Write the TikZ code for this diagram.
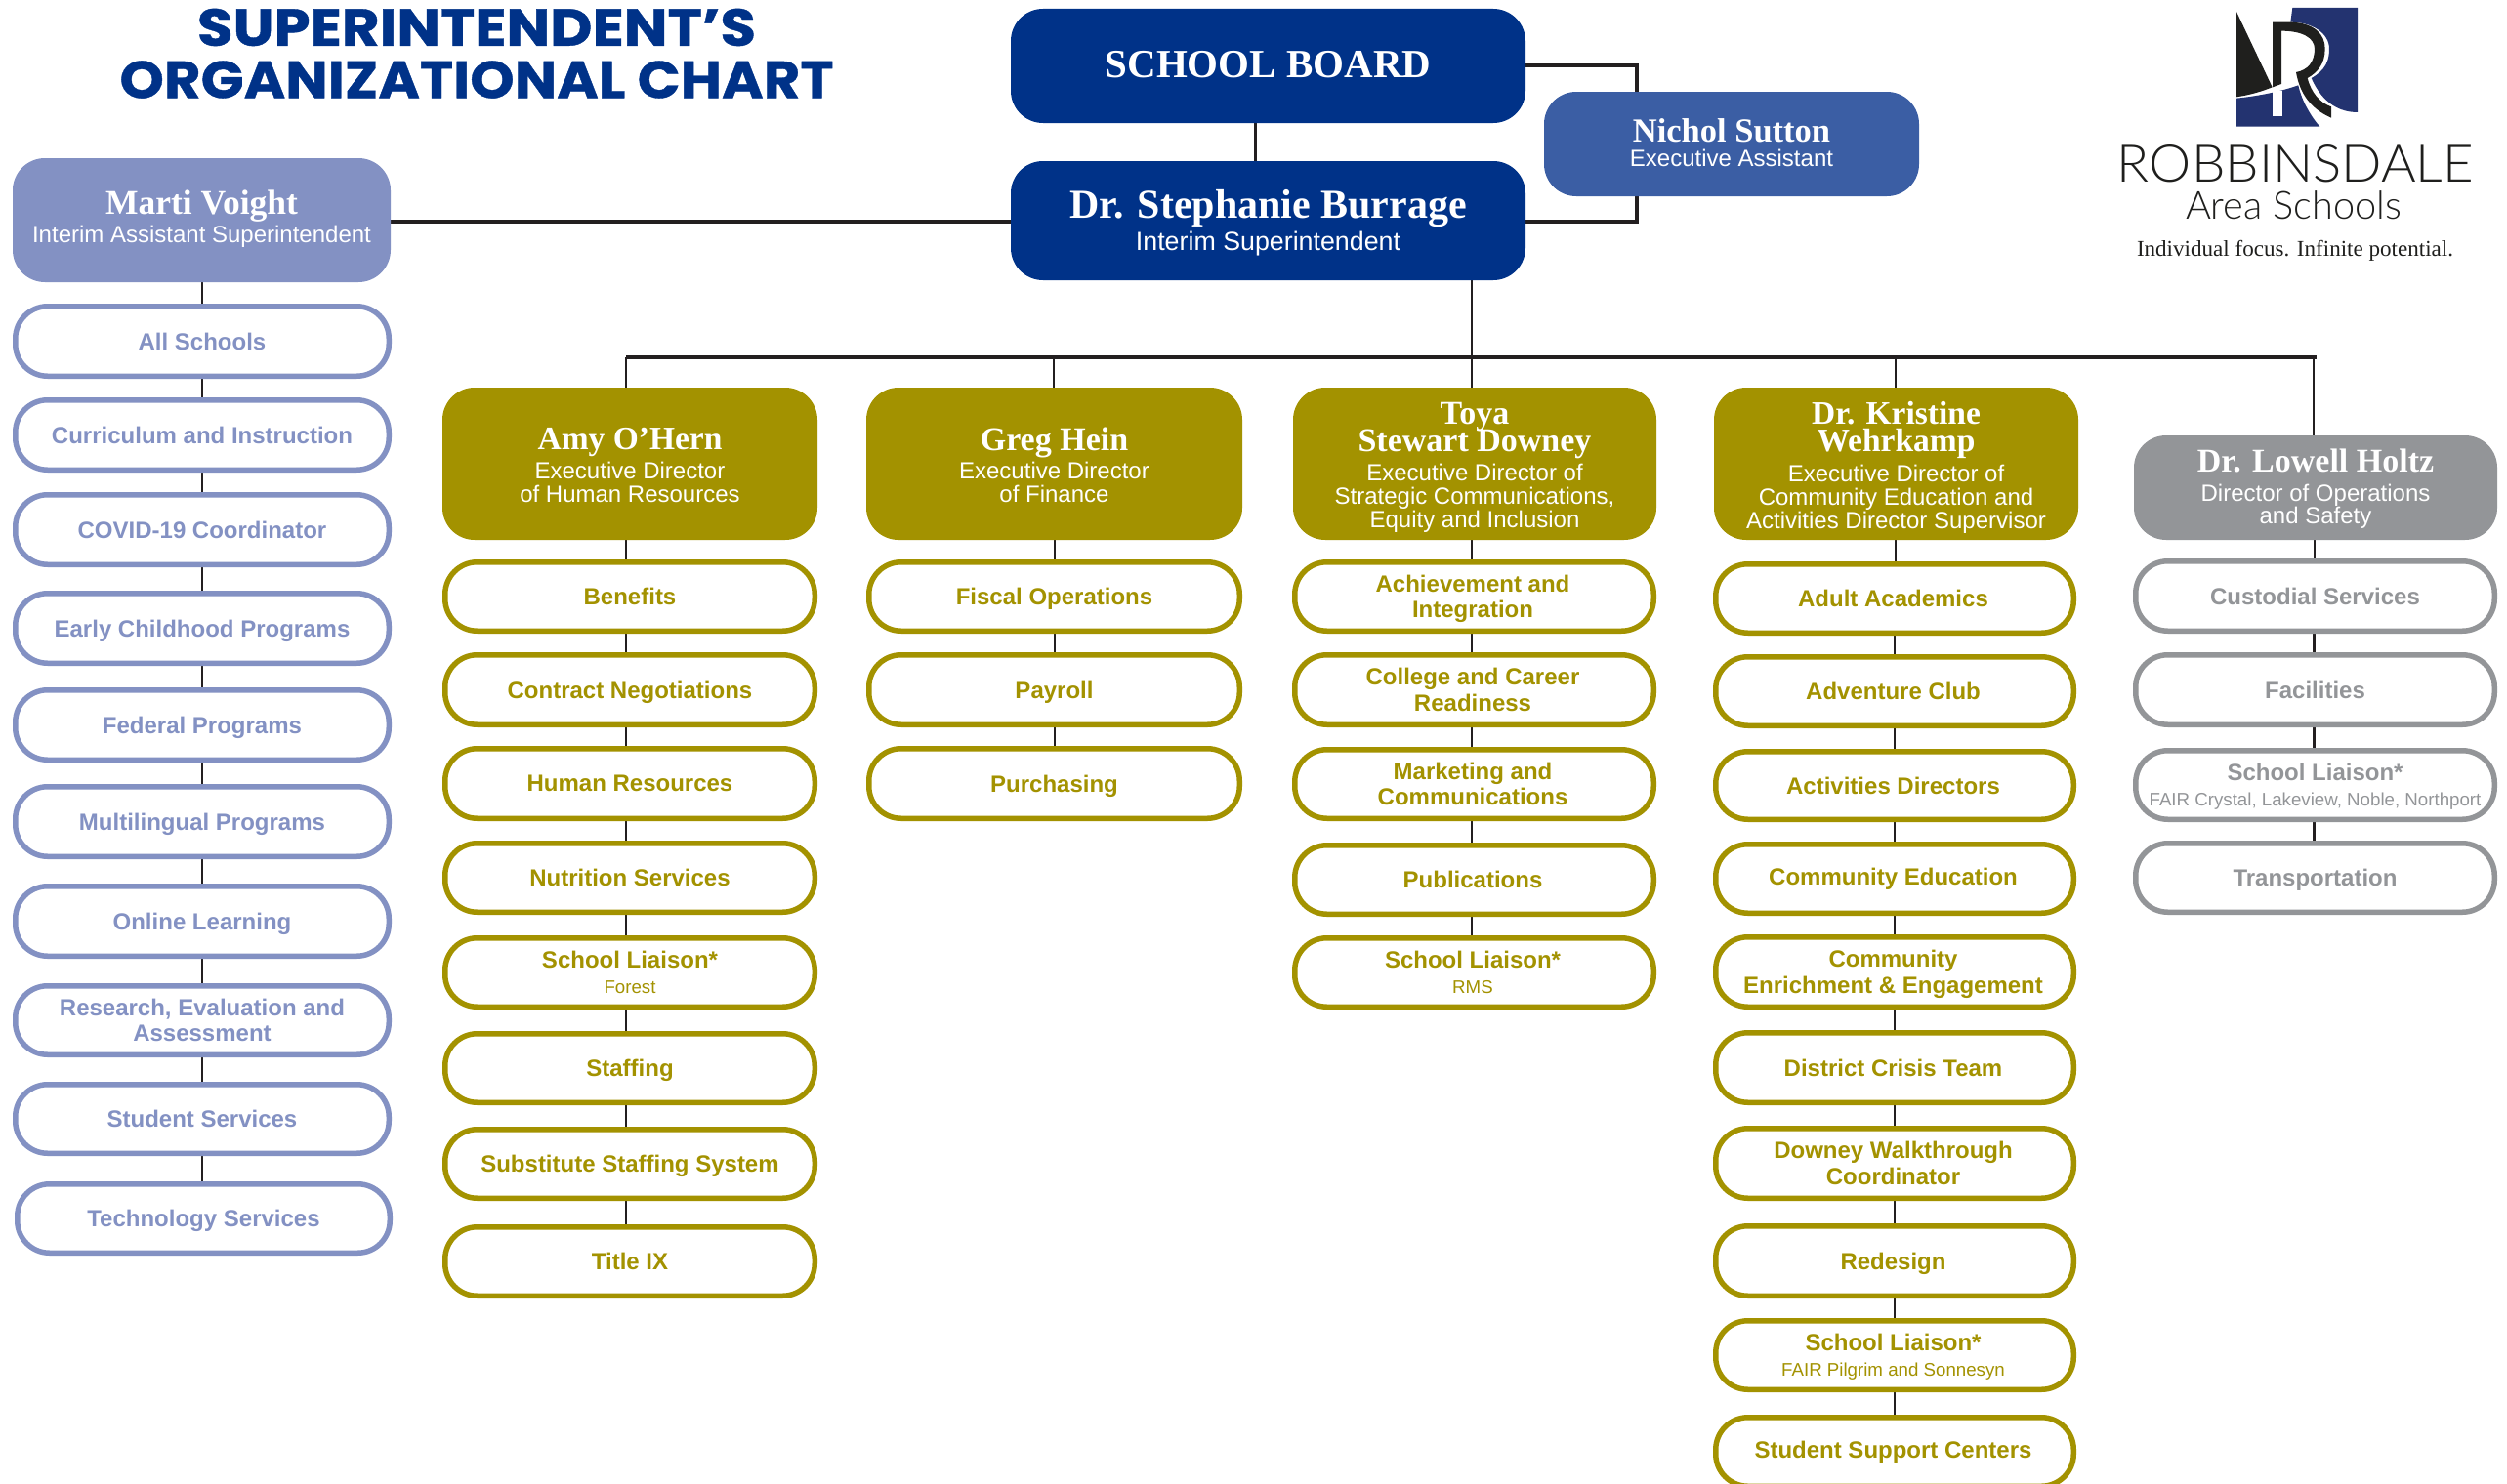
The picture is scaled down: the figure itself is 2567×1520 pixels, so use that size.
\documentclass[tikz,border=0pt]{standalone}
\usepackage{graphicx}
\usepackage{fontspec}
\usetikzlibrary{backgrounds}
\setmainfont{Liberation Sans}
\newfontfamily\namefont{Liberation Serif}
\newfontfamily\titlefont[BoldFeatures={FakeBold=0.7}]{Poppins}
\newfontfamily\logofont[UprightFont={* Light}]{Lato}
\definecolor{navyc}{RGB}{0,50,136}
\definecolor{midc}{RGB}{59,94,164}
\definecolor{perc}{RGB}{131,145,195}
\definecolor{goldc}{RGB}{163,146,0}
\definecolor{greyc}{RGB}{147,149,152}
\definecolor{logonavy}{RGB}{35,51,112}
\definecolor{logoblack}{RGB}{31,31,29}
\definecolor{linec}{RGB}{35,31,32}
\newcommand{\nm}[1]{\fontsize{#1}{29}\namefont\bfseries\selectfont}
\newcommand{\subf}{\fontsize{24}{24}\normalfont\selectfont}
\newcommand{\sm}{\fontsize{18.7}{24}\normalfont\selectfont}
\newcommand{\nod}[1]{\raisebox{0pt}[\height][0pt]{#1}}
\newcommand{\bx}[8]{% style, name, x0,y0,x1,y1, dy, text
  \node[#1,minimum width={#5-#3-\sw},minimum height={#6-#4-\sw},
        label={[labtext,yshift=#7]center:{#8}}] (#2) at ({(#3+#5)/2},{(#4+#6)/2}) {};}
\newcommand{\cn}[3]{\draw[conn] ([xshift=#3]#1.south) -- ([xshift=#3]#1.south |- #2.north);}
\tikzset{
  labtext/.style={align=center,inner sep=0pt,font=\fontsize{24}{26.5}\bfseries\selectfont},
  fillbox/.style={rectangle,rounded corners=33pt,fill=#1,draw=none,inner sep=0pt,outer sep=0pt},
  linebox/.style={rectangle,rounded corners=33pt,fill=white,draw=#1,line width=5.5pt,inner sep=0pt,outer sep=0pt},
  conn/.style={draw=linec,line width=2.6pt},
  thick conn/.style={draw=linec,line width=4pt},
  logotext/.style={inner sep=0pt,text=logoblack}
}
\begin{document}
\begin{tikzpicture}[x=1pt,y=-1pt]
\useasboundingbox (0,0) rectangle (2567,1520);
\def\sw{0}
% title
\node[inner sep=0pt,text=navyc] (t1) at (488,28) {\resizebox{572pt}{38pt}{\titlefont\bfseries SUPERINTENDENT’S}};
\node[inner sep=0pt,text=navyc] (t2) at (488,81.5) {\resizebox{731pt}{38pt}{\titlefont\bfseries ORGANIZATIONAL CHART}};
% leaders
\tikzset{every label/.append style={text=white}}
\bx{fillbox=navyc}{board}{1035}{9}{1562}{126}{1}{\fontsize{41}{41}\namefont\bfseries\selectfont SCHOOL BOARD}
\bx{fillbox=navyc}{burrage}{1035}{165}{1562}{287}{-2}{\nm{42}Dr. Stephanie Burrage\\[3pt] \fontsize{26.8}{24}\normalfont\selectfont Interim Superintendent}
\bx{fillbox=midc}{nichol}{1581}{94}{1965}{201}{1}{\nm{34.5}Nichol Sutton\\[-1.5pt] \subf Executive Assistant}
\bx{fillbox=perc}{marti}{13}{162}{400}{289}{1.5}{\nm{35.5}Marti Voight\\[3pt] \subf Interim Assistant Superintendent}
\bx{fillbox=goldc}{amy}{453}{397}{837}{553}{-1.5}{\nm{33.5}Amy O’Hern\\[3pt] \subf Executive Director\\[-2.5pt] \subf of Human Resources}
\bx{fillbox=goldc}{greg}{887}{397}{1272}{553}{-1.5}{\nm{34}Greg Hein\\[2pt] \subf Executive Director\\[-2.5pt] \subf of Finance}
\bx{fillbox=goldc}{toya}{1324}{397}{1696}{553}{-4}{\nm{34}Toya\\[-3pt] \nm{34}Stewart Downey\\[4pt] \subf Executive Director of\\[-2.5pt] \subf Strategic Communications,\\[-2.5pt] \subf Equity and Inclusion}
\bx{fillbox=goldc}{kris}{1755}{397}{2128}{553}{-4}{\nm{33.5}Dr. Kristine\\[1.5pt] \nm{33.5}Wehrkamp\\[4pt] \subf Executive Director of\\[-2.5pt] \subf Community Education and\\[-2.5pt] \subf Activities Director Supervisor}
\bx{fillbox=greyc}{lowell}{2185}{446}{2557}{553}{-1}{\nm{34}Dr. Lowell Holtz\\[3.5pt] \subf Director of Operations\\[-3pt] \subf and Safety}
% sub-boxes
\def\sw{5.5}
\tikzset{every label/.append style={text=perc}}
\bx{linebox=perc}{m1}{13}{311}{401}{388}{0}{All Schools}
\bx{linebox=perc}{m2}{13}{407}{401}{484}{0}{Curriculum and Instruction}
\bx{linebox=perc}{m3}{13}{504}{401}{581}{0}{COVID-19 Coordinator}
\bx{linebox=perc}{m4}{13}{605}{401}{682}{0}{\nod{Early Childhood Programs}}
\bx{linebox=perc}{m5}{13}{704}{401}{781}{0}{\nod{Federal Programs}}
\bx{linebox=perc}{m6}{13}{803}{401}{880}{0}{\nod{Multilingual Programs}}
\bx{linebox=perc}{m7}{13}{905}{401}{982}{0}{\nod{Online Learning}}
\bx{linebox=perc}{m8}{13}{1007}{401}{1083}{0}{Research, Evaluation and\\Assessment}
\bx{linebox=perc}{m9}{13}{1108}{401}{1184}{0}{Student Services}
\bx{linebox=perc}{m10}{15}{1210}{402}{1286}{0}{\nod{Technology Services}}
\tikzset{every label/.append style={text=goldc}}
\bx{linebox=goldc}{a1}{453}{573}{837}{649}{0}{Benefits}
\bx{linebox=goldc}{a2}{453}{668}{837}{745}{0}{\nod{Contract Negotiations}}
\bx{linebox=goldc}{a3}{453}{764}{837}{841}{0}{Human Resources}
\bx{linebox=goldc}{a4}{453}{861}{837}{937}{0}{Nutrition Services}
\bx{linebox=goldc}{a5}{453}{958}{837}{1034}{0}{School Liaison*\\ \sm Forest}
\bx{linebox=goldc}{a6}{453}{1056}{837}{1132}{0}{\nod{Staffing}}
\bx{linebox=goldc}{a7}{453}{1154}{837}{1230}{0}{\nod{Substitute Staffing System}}
\bx{linebox=goldc}{a8}{453}{1254}{837}{1330}{0}{Title IX}
\bx{linebox=goldc}{g1}{887}{573}{1272}{649}{0}{\nod{Fiscal Operations}}
\bx{linebox=goldc}{g2}{887}{668}{1272}{745}{0}{\nod{Payroll}}
\bx{linebox=goldc}{g3}{887}{764}{1272}{841}{0}{\nod{Purchasing}}
\begin{scope}[every label/.append style={xshift=-1.5pt}]
\bx{linebox=goldc}{t01}{1323}{573}{1696}{649}{0}{Achievement and\\ \nod{Integration}}
\bx{linebox=goldc}{t02}{1323}{668}{1696}{745}{0}{College and Career\\Readiness}
\bx{linebox=goldc}{t03}{1323}{765}{1696}{841}{0}{Marketing and\\Communications}
\bx{linebox=goldc}{t04}{1323}{863}{1696}{939}{0}{Publications}
\bx{linebox=goldc}{t05}{1323}{958}{1696}{1034}{0}{School Liaison*\\ \sm RMS}
\bx{linebox=goldc}{k1}{1754}{575}{2126}{651}{0}{Adult Academics}
\bx{linebox=goldc}{k2}{1754}{670}{2126}{746}{0}{Adventure Club}
\bx{linebox=goldc}{k3}{1754}{767}{2126}{842}{0}{Activities Directors}
\bx{linebox=goldc}{k4}{1754}{862}{2126}{938}{0}{Community Education}
\bx{linebox=goldc}{k5}{1754}{957}{2126}{1034}{0}{Community\\ \nod{Enrichment \& Engagement}}
\bx{linebox=goldc}{k6}{1754}{1055}{2126}{1132}{0}{District Crisis Team}
\bx{linebox=goldc}{k7}{1754}{1153}{2126}{1230}{0}{Downey Walkthrough\\Coordinator}
\bx{linebox=goldc}{k8}{1754}{1253}{2126}{1330}{0}{\nod{Redesign}}
\bx{linebox=goldc}{k9}{1754}{1350}{2126}{1426}{0}{School Liaison*\\ \nod{\sm FAIR Pilgrim and Sonnesyn}}
\bx{linebox=goldc}{k10}{1754}{1449}{2126}{1525}{0}{Student Support Centers}
\end{scope}
\tikzset{every label/.append style={text=greyc}}
\bx{linebox=greyc}{l1}{2184}{572}{2557}{649}{0}{Custodial Services}
\bx{linebox=greyc}{l2}{2184}{668}{2557}{745}{0}{Facilities}
\bx{linebox=greyc}{l3}{2184}{766}{2557}{842}{0}{School Liaison*\\ \nod{\sm FAIR Crystal, Lakeview, Noble, Northport}}
\bx{linebox=greyc}{l4}{2184}{861}{2557}{937}{0}{\nod{Transportation}}
% connectors
\coordinate (busL) at (641,366);
\coordinate (busR) at (2372,366);
\coordinate (boardR) at (1676,67);
\coordinate (burrR) at (1676,227);
\begin{scope}[on background layer]
\cn{board}{burrage}{-13}
\draw[thick conn] (board.east |- boardR) -- (boardR) -- (nichol.north -| boardR);
\draw[thick conn] (burrage.east |- burrR) -- (burrR) -- (nichol.south -| boardR);
\draw[thick conn] (marti.east |- burrR) -- (burrage.west |- burrR);
\draw[conn] ([xshift=208.5]burrage.south) -- ([xshift=208.5]burrage.south |- toya.north);
\draw[thick conn] (busL) -- (busR);
\draw[conn] (busL) -- (amy.north -| busL);
\draw[conn] ([xshift=-0.5]greg.north |- busL) -- ([xshift=-0.5]greg.north);
\draw[conn] ([xshift=-0.5]kris.north |- busL) -- ([xshift=-0.5]kris.north);
\draw[conn] ([xshift=-2]lowell.north |- busL) -- ([xshift=-2]lowell.north);
\cn{marti}{m1}{0.5}
\foreach \p/\q in {m1/m2,m2/m3,m3/m4,m4/m5,m5/m6,m6/m7,m7/m8,m8/m9,m9/m10}{\cn{\p}{\q}{0}}
\cn{amy}{a1}{-4}
\foreach \p/\q in {a1/a2,a2/a3,a3/a4,a4/a5,a5/a6,a6/a7,a7/a8}{\cn{\p}{\q}{-4}}
\foreach \p/\q in {greg/g1,g1/g2,g2/g3}{\cn{\p}{\q}{0.5}}
\cn{toya}{t01}{-3}
\foreach \p/\q in {t01/t02,t02/t03,t03/t04,t04/t05}{\cn{\p}{\q}{-2.5}}
\cn{kris}{k1}{-0.5}
\foreach \p/\q in {k1/k2,k2/k3,k3/k4,k4/k5,k5/k6,k6/k7,k7/k8,k8/k9,k9/k10}{\cn{\p}{\q}{0}}
\foreach \p/\q in {lowell/l1,l1/l2,l2/l3,l3/l4}{\cn{\p}{\q}{-1}}
\end{scope}
% logo
\begin{scope}[shift={(2140,0)},x=0.3333pt,y=-0.3333pt]
\fill[logonavy] (622,24) -- (822,24) -- (822,345) .. controls (770,345) and (715,320) .. (680,240) .. controls (725,215) and (735,185) .. (735,150) .. controls (735,100) and (680,68) .. (616,68) -- cycle;
\fill[logonavy] (450,302) .. controls (520,295) and (590,280) .. (640,262) .. controls (650,310) and (680,360) .. (706,389) -- (450,389) -- cycle;
\fill[white] (561,280) rectangle (590,356);
\fill[logoblack] (450,36) -- (560,268) .. controls (525,282) and (490,292) .. (450,298) -- cycle;
\fill[logoblack] (561,68) -- (620,68) .. controls (690,72) and (722,105) .. (722,150) .. controls (722,195) and (700,222) .. (668,240) .. controls (680,285) and (705,315) .. (741,328) -- (741,362) .. controls (680,335) and (645,290) .. (633,222) .. controls (670,215) and (690,190) .. (690,150) .. controls (690,115) and (650,95) .. (588,95) -- (588,258) -- (561,268) -- cycle;
\end{scope}
\node[logotext] (logo1) at (2350.5,168) {\resizebox{365pt}{38pt}{\logofont ROBBINSDALE}};
\node[logotext] (logo2) at (2348.5,210) {\resizebox{221pt}{!}{\logofont Area Schools}};
\node[logotext] (logo3) at (2350,257) {\resizebox{324pt}{!}{\namefont Individual focus. Infinite potential.}};
\end{tikzpicture}
\end{document}
